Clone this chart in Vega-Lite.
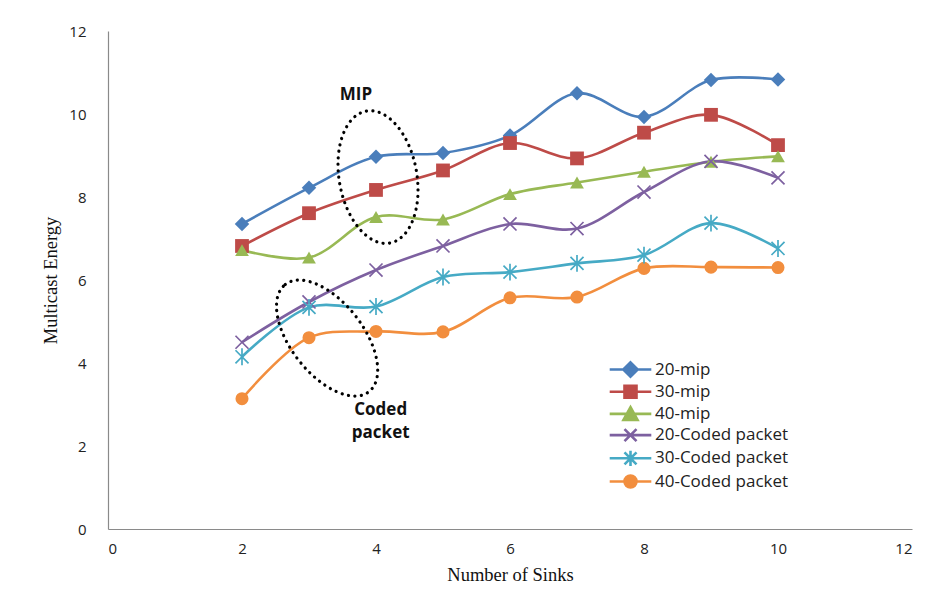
{
  "$schema": "https://vega.github.io/schema/vega-lite/v6.json",
  "width": 804,
  "height": 498,
  "autosize": {"type": "none"},
  "padding": {"left": 108, "top": 31, "right": 17, "bottom": 83},
  "background": "white",
  "config": {
    "view": {"stroke": null},
    "axis": {
      "grid": false,
      "ticks": false,
      "domainColor": "#8a8a8a",
      "domainWidth": 1.2,
      "labelFont": "Open Sans",
      "labelFontSize": 15,
      "labelColor": "#222222",
      "titleFont": "Liberation Serif",
      "titleFontSize": 18.5,
      "titleFontWeight": "normal",
      "titleColor": "#111111"
    },
    "point": {"opacity": 1}
  },
  "datasets": {
    "energy": [
      {"sinks": 2, "series": "20-mip", "energy": 7.35},
      {"sinks": 3, "series": "20-mip", "energy": 8.22},
      {"sinks": 4, "series": "20-mip", "energy": 8.97},
      {"sinks": 5, "series": "20-mip", "energy": 9.06},
      {"sinks": 6, "series": "20-mip", "energy": 9.48},
      {"sinks": 7, "series": "20-mip", "energy": 10.5},
      {"sinks": 8, "series": "20-mip", "energy": 9.93},
      {"sinks": 9, "series": "20-mip", "energy": 10.82},
      {"sinks": 10, "series": "20-mip", "energy": 10.83},
      {"sinks": 2, "series": "30-mip", "energy": 6.82},
      {"sinks": 3, "series": "30-mip", "energy": 7.61},
      {"sinks": 4, "series": "30-mip", "energy": 8.17},
      {"sinks": 5, "series": "30-mip", "energy": 8.64},
      {"sinks": 6, "series": "30-mip", "energy": 9.3},
      {"sinks": 7, "series": "30-mip", "energy": 8.93},
      {"sinks": 8, "series": "30-mip", "energy": 9.55},
      {"sinks": 9, "series": "30-mip", "energy": 9.98},
      {"sinks": 10, "series": "30-mip", "energy": 9.25},
      {"sinks": 2, "series": "40-mip", "energy": 6.72},
      {"sinks": 3, "series": "40-mip", "energy": 6.54},
      {"sinks": 4, "series": "40-mip", "energy": 7.52},
      {"sinks": 5, "series": "40-mip", "energy": 7.46},
      {"sinks": 6, "series": "40-mip", "energy": 8.07},
      {"sinks": 7, "series": "40-mip", "energy": 8.35},
      {"sinks": 8, "series": "40-mip", "energy": 8.61},
      {"sinks": 9, "series": "40-mip", "energy": 8.85},
      {"sinks": 10, "series": "40-mip", "energy": 8.98},
      {"sinks": 2, "series": "20-Coded packet", "energy": 4.5},
      {"sinks": 3, "series": "20-Coded packet", "energy": 5.47},
      {"sinks": 4, "series": "20-Coded packet", "energy": 6.24},
      {"sinks": 5, "series": "20-Coded packet", "energy": 6.82},
      {"sinks": 6, "series": "20-Coded packet", "energy": 7.35},
      {"sinks": 7, "series": "20-Coded packet", "energy": 7.24},
      {"sinks": 8, "series": "20-Coded packet", "energy": 8.12},
      {"sinks": 9, "series": "20-Coded packet", "energy": 8.86},
      {"sinks": 10, "series": "20-Coded packet", "energy": 8.46},
      {"sinks": 2, "series": "30-Coded packet", "energy": 4.15},
      {"sinks": 3, "series": "30-Coded packet", "energy": 5.34},
      {"sinks": 4, "series": "30-Coded packet", "energy": 5.36},
      {"sinks": 5, "series": "30-Coded packet", "energy": 6.07},
      {"sinks": 6, "series": "30-Coded packet", "energy": 6.19},
      {"sinks": 7, "series": "30-Coded packet", "energy": 6.4},
      {"sinks": 8, "series": "30-Coded packet", "energy": 6.6},
      {"sinks": 9, "series": "30-Coded packet", "energy": 7.37},
      {"sinks": 10, "series": "30-Coded packet", "energy": 6.76},
      {"sinks": 2, "series": "40-Coded packet", "energy": 3.14},
      {"sinks": 3, "series": "40-Coded packet", "energy": 4.61},
      {"sinks": 4, "series": "40-Coded packet", "energy": 4.76},
      {"sinks": 5, "series": "40-Coded packet", "energy": 4.75},
      {"sinks": 6, "series": "40-Coded packet", "energy": 5.57},
      {"sinks": 7, "series": "40-Coded packet", "energy": 5.59},
      {"sinks": 8, "series": "40-Coded packet", "energy": 6.28},
      {"sinks": 9, "series": "40-Coded packet", "energy": 6.31},
      {"sinks": 10, "series": "40-Coded packet", "energy": 6.3}
    ]
  },
  "layer": [
    {
      "data": {"name": "energy"},
      "mark": {"type": "line", "interpolate": "catmull-rom", "strokeWidth": 2.6},
      "encoding": {
        "x": {
          "field": "sinks", "type": "quantitative",
          "scale": {"domain": [0, 12], "nice": false, "zero": false},
          "axis": {"values": [0, 2, 4, 6, 8, 10, 12], "format": "d", "title": "Number of Sinks", "labelPadding": 12, "titlePadding": 9}
        },
        "y": {
          "field": "energy", "type": "quantitative",
          "scale": {"domain": [0, 12], "nice": false},
          "axis": {"values": [0, 2, 4, 6, 8, 10, 12], "format": "d", "title": "Multicast Energy", "labelPadding": 22, "titlePadding": 8}
        },
        "color": {
          "field": "series", "type": "nominal",
          "scale": {
            "domain": ["20-mip", "30-mip", "40-mip", "20-Coded packet", "30-Coded packet", "40-Coded packet"],
            "range": ["#4a7ebb", "#be4b48", "#98b954", "#7d60a0", "#46aac5", "#f28e3e"]
          },
          "sort": null,
          "legend": {
            "title": null,
            "orient": "none",
            "legendX": 513,
            "legendY": 329,
            "labelFont": "Open Sans",
            "labelFontSize": 17,
            "labelColor": "#222222",
            "labelOffset": 15,
            "rowPadding": -1.8,
            "symbolSize": 256,
            "symbolStrokeWidth": 2.6,
            "encode": {
              "symbols": {
                "update": {
                  "shape": {"signal": "datum.value === '20-mip' ? 'M-2.6,0L2.6,0M0,-0.9L0.9,0L0,0.9L-0.9,0Z' : datum.value === '30-mip' ? 'M-2.6,0L2.6,0M-0.75,-0.75L0.75,-0.75L0.75,0.75L-0.75,0.75Z' : datum.value === '40-mip' ? 'M-2.6,0L2.6,0M0,-0.85L0.88,0.75L-0.88,0.75Z' : datum.value === '20-Coded packet' ? 'M-2.6,0L2.6,0M-0.75,-0.75L0.75,0.75M-0.75,0.75L0.75,-0.75' : datum.value === '30-Coded packet' ? 'M-2.6,0L2.6,0M-0.75,-0.75L0.75,0.75M-0.75,0.75L0.75,-0.75M0,-0.95L0,0.95' : 'M-2.6,0L2.6,0M0.75,0C0.75,0.41 0.41,0.75 0,0.75C-0.41,0.75 -0.75,0.41 -0.75,0C-0.75,-0.41 -0.41,-0.75 0,-0.75C0.41,-0.75 0.75,-0.41 0.75,0Z'"},
                  "fill": {"scale": "color", "field": "value"},
                  "stroke": {"scale": "color", "field": "value"},
                  "strokeWidth": {"value": 2.6},
                  "size": {"value": 256},
                  "opacity": {"value": 1}
                }
              }
            }
          }
        }
      }
    },
    {
      "data": {"name": "energy"},
      "transform": [{"filter": "datum.series === '20-mip'"}],
      "mark": {"type": "point", "shape": "diamond", "filled": true, "size": 210},
      "encoding": {
        "x": {"field": "sinks", "type": "quantitative"},
        "y": {"field": "energy", "type": "quantitative"},
        "color": {"field": "series", "type": "nominal"}
      }
    },
    {
      "data": {"name": "energy"},
      "transform": [{"filter": "datum.series === '30-mip'"}],
      "mark": {"type": "point", "shape": "square", "filled": true, "size": 190},
      "encoding": {
        "x": {"field": "sinks", "type": "quantitative"},
        "y": {"field": "energy", "type": "quantitative"},
        "color": {"field": "series", "type": "nominal"}
      }
    },
    {
      "data": {"name": "energy"},
      "transform": [{"filter": "datum.series === '40-mip'"}],
      "mark": {"type": "point", "shape": "triangle-up", "filled": true, "size": 190},
      "encoding": {
        "x": {"field": "sinks", "type": "quantitative"},
        "y": {"field": "energy", "type": "quantitative"},
        "color": {"field": "series", "type": "nominal"}
      }
    },
    {
      "data": {"name": "energy"},
      "transform": [{"filter": "datum.series === '40-Coded packet'"}],
      "mark": {"type": "point", "shape": "circle", "filled": true, "size": 170},
      "encoding": {
        "x": {"field": "sinks", "type": "quantitative"},
        "y": {"field": "energy", "type": "quantitative"},
        "color": {"field": "series", "type": "nominal"}
      }
    },
    {
      "data": {"name": "energy"},
      "transform": [{"filter": "datum.series === '20-Coded packet'"}],
      "mark": {"type": "point", "shape": "M-1,-1L1,1M-1,1L1,-1", "filled": false, "size": 170, "strokeWidth": 1.7},
      "encoding": {
        "x": {"field": "sinks", "type": "quantitative"},
        "y": {"field": "energy", "type": "quantitative"},
        "color": {"field": "series", "type": "nominal"}
      }
    },
    {
      "data": {"name": "energy"},
      "transform": [{"filter": "datum.series === '30-Coded packet'"}],
      "mark": {"type": "point", "shape": "M-1,-1L1,1M-1,1L1,-1M0,-1.3L0,1.3", "filled": false, "size": 170, "strokeWidth": 1.7},
      "encoding": {
        "x": {"field": "sinks", "type": "quantitative"},
        "y": {"field": "energy", "type": "quantitative"},
        "color": {"field": "series", "type": "nominal"}
      }
    },
    {
      "data": {"values": [{"sinks": 4.03, "energy": 8.48}]},
      "mark": {
        "type": "point",
        "shape": "M0,-1C0.32,-1 0.58,-0.552 0.58,0C0.58,0.552 0.32,1 0,1C-0.32,1 -0.58,0.552 -0.58,0C-0.58,-0.552 -0.32,-1 0,-1Z",
        "size": 17956,
        "angle": -10,
        "filled": false,
        "stroke": "#000000",
        "strokeWidth": 3.2,
        "strokeCap": "round",
        "strokeDash": [0.1, 6.4]
      },
      "encoding": {
        "x": {"field": "sinks", "type": "quantitative"},
        "y": {"field": "energy", "type": "quantitative"}
      }
    },
    {
      "data": {"values": [{"sinks": 3.27, "energy": 4.6}]},
      "mark": {
        "type": "point",
        "shape": "M0,-1C0.293,-1 0.53,-0.552 0.53,0C0.53,0.552 0.293,1 0,1C-0.293,1 -0.53,0.552 -0.53,0C-0.53,-0.552 -0.293,-1 0,-1Z",
        "size": 18496,
        "angle": -38,
        "filled": false,
        "stroke": "#000000",
        "strokeWidth": 3.2,
        "strokeCap": "round",
        "strokeDash": [0.1, 6.4]
      },
      "encoding": {
        "x": {"field": "sinks", "type": "quantitative"},
        "y": {"field": "energy", "type": "quantitative"}
      }
    },
    {
      "data": {"values": [
        {"sinks": 3.7, "energy": 10.46, "note": "MIP"},
        {"sinks": 4.07, "energy": 2.87, "note": "Coded"},
        {"sinks": 4.07, "energy": 2.31, "note": "packet"}
      ]},
      "mark": {"type": "text", "font": "Open Sans", "fontSize": 17, "fontWeight": "bold", "color": "#111111", "align": "center", "baseline": "middle"},
      "encoding": {
        "x": {"field": "sinks", "type": "quantitative"},
        "y": {"field": "energy", "type": "quantitative"},
        "text": {"field": "note", "type": "nominal"}
      }
    }
  ]
}
